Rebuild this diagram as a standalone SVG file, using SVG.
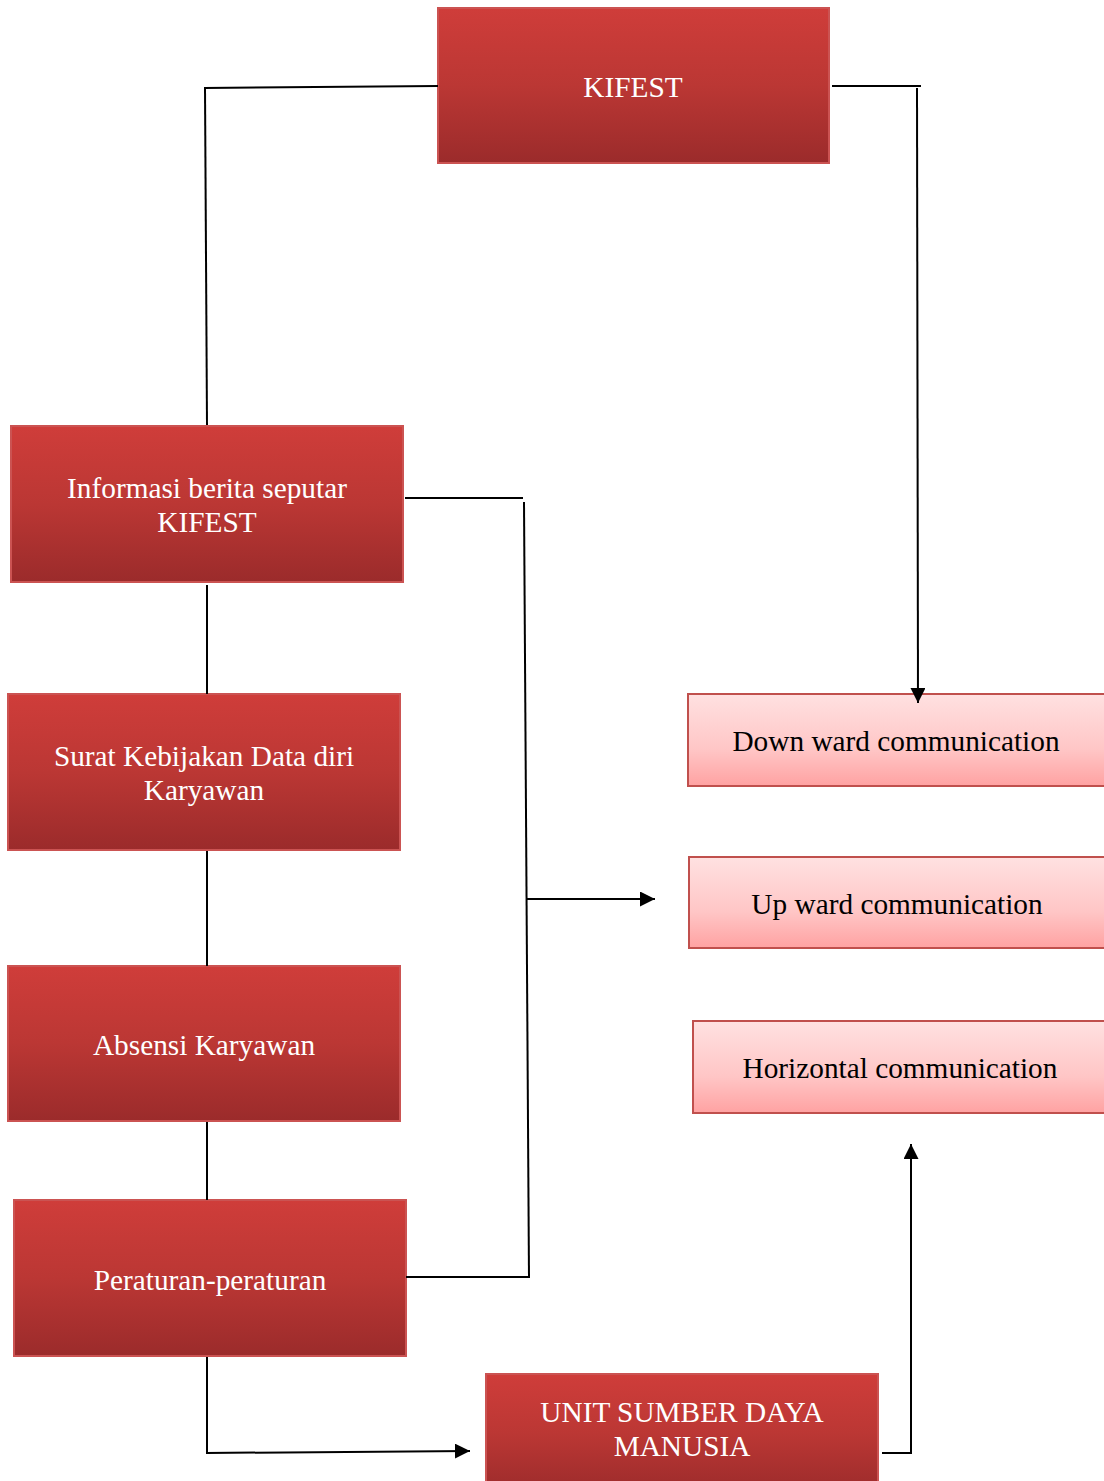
<svg xmlns="http://www.w3.org/2000/svg" width="1104" height="1481" viewBox="0 0 1104 1481">
<defs>
<linearGradient id="gRed" x1="0" y1="0" x2="0" y2="1">
<stop offset="0" stop-color="#cf3d3a"/>
<stop offset="0.5" stop-color="#bb3734"/>
<stop offset="1" stop-color="#9b2b2b"/>
</linearGradient>
<linearGradient id="gPink" x1="0" y1="0" x2="0" y2="1">
<stop offset="0" stop-color="#ffe1e1"/>
<stop offset="0.6" stop-color="#ffc6c6"/>
<stop offset="1" stop-color="#ffa2a2"/>
</linearGradient>
<marker id="arr" viewBox="0 0 10 10" refX="10" refY="5" markerWidth="15" markerHeight="15" markerUnits="userSpaceOnUse" orient="auto">
<path d="M0,0 L10,5 L0,10 Z" fill="#000"/>
</marker>
</defs>
<style>
.red{fill:url(#gRed);stroke:#cb5352;stroke-width:2}
.pink{fill:url(#gPink);stroke:#c0504d;stroke-width:2}
.wt{font-family:"Liberation Serif","Times New Roman",serif;font-size:29.3px;fill:#fff;text-anchor:middle}
.bt{font-family:"Liberation Serif","Times New Roman",serif;font-size:29.3px;fill:#000;text-anchor:middle}
.ln{fill:none;stroke:#000;stroke-width:2}
</style>
<rect width="1104" height="1481" fill="#fff"/>
<g id="kifest">
<rect class="red" x="438" y="8" width="391" height="155"/>
<text class="wt" x="633" y="97">KIFEST</text>
</g>
<g id="informasi">
<rect class="red" x="11" y="426" width="392" height="156"/>
<text class="wt" x="207" y="498">Informasi berita seputar</text>
<text class="wt" x="207" y="532">KIFEST</text>
</g>
<g id="surat">
<rect class="red" x="8" y="694" width="392" height="156"/>
<text class="wt" x="204" y="766">Surat Kebijakan Data diri</text>
<text class="wt" x="204" y="800">Karyawan</text>
</g>
<g id="absensi">
<rect class="red" x="8" y="966" width="392" height="155"/>
<text class="wt" x="204" y="1055">Absensi Karyawan</text>
</g>
<g id="peraturan">
<rect class="red" x="14" y="1200" width="392" height="156"/>
<text class="wt" x="210" y="1290">Peraturan-peraturan</text>
</g>
<g id="unit-sdm">
<rect class="red" x="486" y="1374" width="392" height="120"/>
<text class="wt" x="682" y="1422">UNIT SUMBER DAYA</text>
<text class="wt" x="682" y="1456">MANUSIA</text>
</g>
<g id="downward">
<rect class="pink" x="688" y="694" width="430" height="92"/>
<text class="bt" x="896" y="751">Down ward communication</text>
</g>
<g id="upward">
<rect class="pink" x="689" y="857" width="430" height="91"/>
<text class="bt" x="897" y="914">Up ward communication</text>
</g>
<g id="horizontal">
<rect class="pink" x="693" y="1021" width="430" height="92"/>
<text class="bt" x="900" y="1078">Horizontal communication</text>
</g>
<g id="connectors">
<polyline class="ln" points="438,86 204,88"/>
<polyline class="ln" points="205,88 207,425"/>
<polyline class="ln" points="832,86 921,86"/>
<line class="ln" x1="917" y1="88" x2="918" y2="703" marker-end="url(#arr)"/>
<polyline class="ln" points="405,498 523,498"/>
<polyline class="ln" points="524,502 529,1278"/>
<polyline class="ln" points="406,1277 529,1277"/>
<line class="ln" x1="527" y1="899" x2="655" y2="899" marker-end="url(#arr)"/>
<line class="ln" x1="207" y1="585" x2="207" y2="694"/>
<line class="ln" x1="207" y1="851" x2="207" y2="966"/>
<line class="ln" x1="207" y1="1122" x2="207" y2="1200"/>
<polyline class="ln" points="207,1357 207,1453"/>
<line class="ln" x1="206" y1="1453" x2="470" y2="1451" marker-end="url(#arr)"/>
<polyline class="ln" points="882,1453 911,1453 911,1144" marker-end="url(#arr)"/>
</g>
</svg>
